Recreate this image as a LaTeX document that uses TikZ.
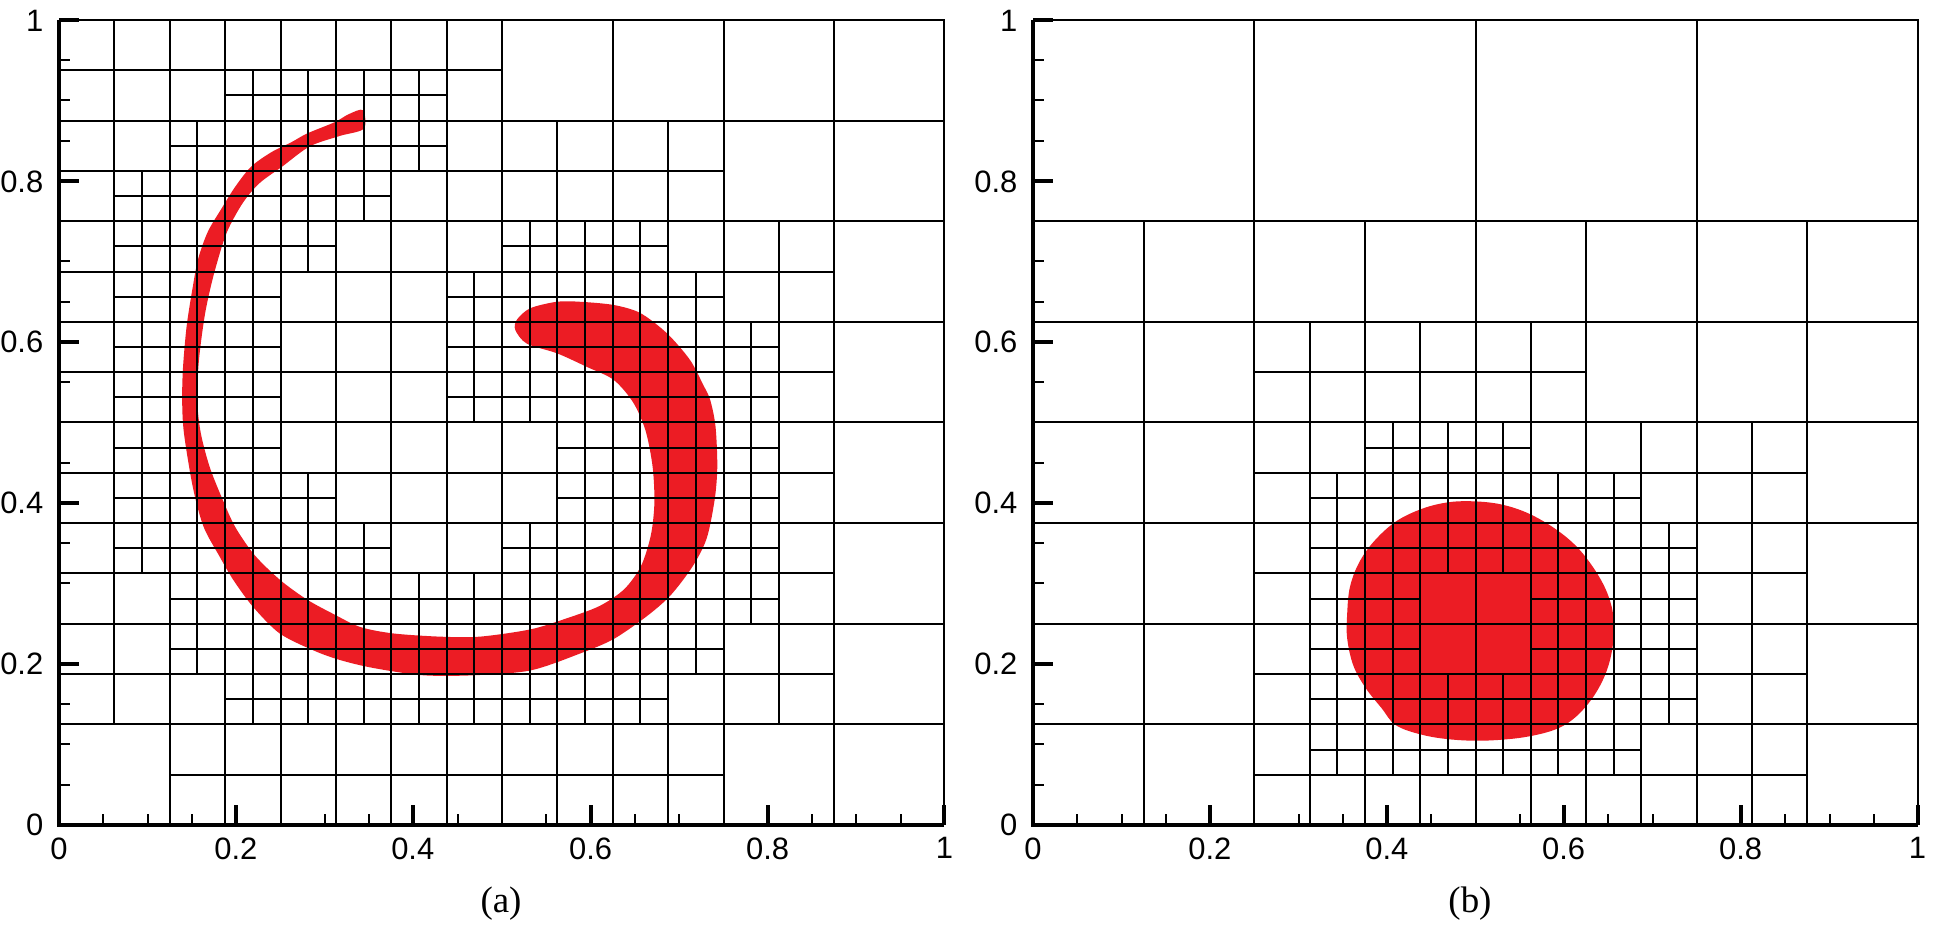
\documentclass[tikz,border=0pt]{standalone}
\usepackage{fontspec}
\setmainfont{Liberation Serif}
\newfontfamily\tickfont{Liberation Sans}
\definecolor{dropred}{RGB}{236,28,36}
\tikzset{
  gridline/.style={line width=0.02cm, black},
  axisline/.style={line width=0.045cm, black, line join=miter},
  majortick/.style={line width=0.04cm, black},
  minortick/.style={line width=0.02cm, black},
  ticklab/.style={font=\tickfont\fontsize{8.8}{10}\selectfont, inner sep=0pt},
  caplab/.style={font=\fontsize{10.5}{12}\selectfont, inner sep=0pt},
  dropfill/.style={fill=dropred, draw=none}
}
% grid coordinates in 1/32 units, rounded to whole pixels (x=y=0.01cm)
\newcommand\splitrow[2]{\foreach \p in {#2}{%
  \draw[gridline] ({gx(2*\p+1)},{gy(2*#1)}) -- ({gx(2*\p+1)},{gy(2*#1+2)})
                  ({gx(2*\p)},{gy(2*#1+1)}) -- ({gx(2*\p+2)},{gy(2*#1+1)});}}
\newcommand\splitblocks[2]{\foreach \a in {#2}{%
  \draw[gridline] ({gx(4*\a+2)},{gy(4*#1)}) -- ({gx(4*\a+2)},{gy(4*#1+4)})
                  ({gx(4*\a)},{gy(4*#1+2)}) -- ({gx(4*\a+4)},{gy(4*#1+2)});}}
\newcommand\drawaxes[1]{%
  \foreach \k in {1,...,19}{
    \draw[minortick] ({gx(1.6*\k)},0) -- ++(0,0.11cm);
    \draw[minortick] (0,{gy(1.6*\k)}) -- ++(0.11cm,0);
  }
  \foreach \k/\t in {0/0,1/0.2,2/0.4,3/0.6,4/0.8,5/1}{
    \draw[majortick] ({gx(6.4*\k)},0) -- ++(0,0.2cm);
    \draw[majortick] (0,{gy(6.4*\k)}) -- ++(0.2cm,0);
    \node[ticklab, anchor=north, yshift=-0.12cm] (#1x\k) at ({gx(6.4*\k)},0) {\t};
    \node[ticklab, anchor=east, xshift=-0.15cm] (#1y\k) at (0,{gy(6.4*\k)}) {\t};
  }
  \draw[axisline] (0,{gy(32)}) -- (0,0) -- ({gx(32)},0);
}
\begin{document}
\begin{tikzpicture}
\useasboundingbox (0,0) rectangle (19.33,-9.26);
\fill[white] (0,0) rectangle (19.33,-9.26);

% ---------------- (a) ----------------
\begin{scope}[shift={(0.59,-8.25)}, x=0.01cm, y=0.01cm,
  declare function={gx(\i)=round(27.6875*\i); gy(\j)=round(25.15625*\j);}]
  \begin{scope}[x=8.86cm, y=8.05cm]
    \fill[dropfill] plot[smooth cycle, tension=0.5] coordinates {
      (.343,.888) (.327,.883) (.311,.873) (.280,.859) (.262,.848) (.240,.836)
      (.217,.818) (.199,.793) (.183,.765) (.168,.737) (.157,.703) (.150,.662)
      (.144,.619) (.140,.569) (.139,.528) (.141,.487) (.151,.420) (.163,.371)
      (.181,.334) (.197,.304) (.219,.271) (.249,.238) (.287,.217) (.317,.205)
      (.355,.195) (.411,.186) (.468,.186) (.532,.192) (.588,.213) (.626,.231)
      (.663,.259) (.690,.285) (.715,.321) (.731,.356) (.740,.404) (.743,.445)
      (.741,.495) (.735,.528) (.727,.547) (.712,.578) (.686,.611) (.656,.636)
      (.626,.646) (.588,.650) (.562,.650) (.532,.642) (.517,.628) (.515,.615)
      (.528,.598) (.562,.586) (.596,.569) (.626,.553) (.648,.525) (.662,.490)
      (.670,.445) (.672,.400) (.668,.360) (.657,.322) (.638,.293) (.610,.272)
      (.571,.256) (.532,.243) (.475,.234) (.430,.234) (.377,.238) (.340,.246)
      (.310,.262) (.280,.280) (.250,.304) (.221,.335) (.199,.370) (.184,.406)
      (.170,.445) (.160,.487) (.156,.528) (.158,.578) (.165,.636) (.175,.685)
      (.189,.735) (.207,.772) (.226,.797) (.252,.818) (.283,.843) (.317,.856)
      (.344,.865)};
  \end{scope}
  % level 1/8 grid
  \foreach \k in {4,8,...,28}{
    \draw[gridline] ({gx(\k)},0) -- ({gx(\k)},{gy(32)});
    \draw[gridline] (0,{gy(\k)}) -- ({gx(32)},{gy(\k)});
  }
  \draw[gridline] (0,{gy(32)}) -- ({gx(32)},{gy(32)}) -- ({gx(32)},0);
  % split 1/8 blocks
  \splitblocks{0}{1,2,3,4,5}
  \foreach \b in {1,...,5}{\splitblocks{\b}{0,1,2,3,4,5,6}}
  \splitblocks{6}{0,1,2,3,4,5}
  \splitblocks{7}{0,1,2,3}
  % split 1/16 cells
  \splitrow{2}{3,4,5,6,7,8,9,10}
  \splitrow{3}{2,3,4,5,6,7,8,9,10,11}
  \splitrow{4}{2,3,4,5,6,7,8,9,10,11,12}
  \splitrow{5}{1,2,3,4,5,8,9,10,11,12}
  \splitrow{6}{1,2,3,4,9,10,11,12}
  \splitrow{7}{1,2,3,9,10,11,12}
  \splitrow{8}{1,2,3,7,8,9,10,11,12}
  \splitrow{9}{1,2,3,7,8,9,10,11,12}
  \splitrow{10}{1,2,3,7,8,9,10,11}
  \splitrow{11}{1,2,3,4,8,9,10}
  \splitrow{12}{1,2,3,4,5}
  \splitrow{13}{2,3,4,5,6}
  \splitrow{14}{3,4,5,6}
  \drawaxes{a}
\end{scope}

% ---------------- (b) ----------------
\begin{scope}[shift={(10.33,-8.25)}, x=0.01cm, y=0.01cm,
  declare function={gx(\i)=round(27.65625*\i); gy(\j)=round(25.15625*\j);}]
  \begin{scope}[x=8.85cm, y=8.05cm]
    \fill[dropfill] plot[smooth cycle, tension=0.6] coordinates {
      (.355,.262) (.358,.295) (.368,.325) (.385,.352) (.410,.377)
      (.440,.393) (.470,.401) (.500,.402) (.530,.398) (.560,.387)
      (.590,.368) (.615,.345) (.636,.315) (.650,.285) (.656,.255)
      (.654,.215) (.643,.178) (.623,.145) (.597,.122) (.560,.110)
      (.515,.105) (.475,.106) (.440,.112) (.410,.124) (.394,.145)
      (.376,.170) (.362,.198) (.355,.232)};
  \end{scope}
  \foreach \k in {8,16,24} \draw[gridline] ({gx(\k)},0) -- ({gx(\k)},{gy(32)});
  \foreach \k in {4,12,20,28} \draw[gridline] ({gx(\k)},0) -- ({gx(\k)},{gy(24)});
  \foreach \k in {4,8,...,24} \draw[gridline] (0,{gy(\k)}) -- ({gx(32)},{gy(\k)});
  \draw[gridline] (0,{gy(32)}) -- ({gx(32)},{gy(32)}) -- ({gx(32)},0);
  \foreach \b in {0,...,3}{\splitblocks{\b}{2,3,4,5,6}}
  \splitblocks{4}{2,3,4}
  \splitrow{1}{5,6,7,8,9,10}
  \splitrow{2}{5,6,7,8,9,10,11}
  \splitrow{3}{5,6,9,10,11}
  \splitrow{4}{5,6,9,10,11}
  \splitrow{5}{5,6,7,8,9,10,11}
  \splitrow{6}{5,6,7,8,9,10}
  \splitrow{7}{6,7,8}
  \drawaxes{b}
\end{scope}

\node[caplab] (capa) at (5.01,-9.04) {(a)};
\node[caplab] (capb) at (14.70,-9.04) {(b)};
\end{tikzpicture}
\end{document}
